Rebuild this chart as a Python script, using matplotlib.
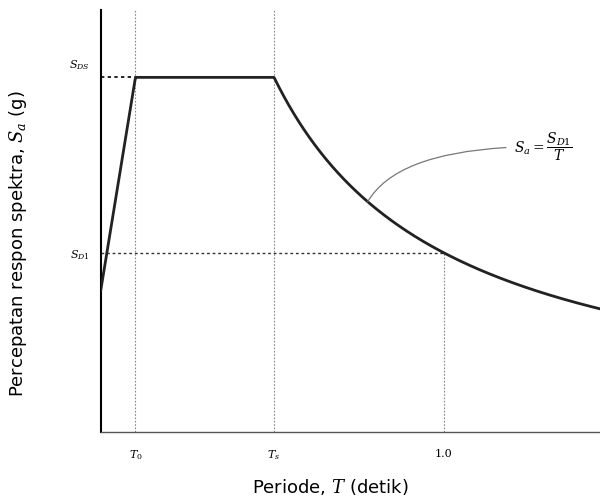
import numpy as np
import matplotlib.pyplot as plt
import matplotlib.transforms as mtransforms

# spektrum respons desain
SDS = 1.0
SD1 = 0.505
Ts = SD1 / SDS
T0 = 0.2 * Ts
T_max = 1.455
y_max = 1.19

tick_pos = [T0, Ts, 1.0]
tick_labels = [r'$T_0$', r'$T_s$', '1.0']

T = np.linspace(0, T_max, 600)
Sa = np.where(T < T0, SDS * (0.4 + 0.6 * T / T0),
              np.where(T <= Ts, SDS, SD1 / np.maximum(T, 1e-6)))

plt.rcParams['mathtext.fontset'] = 'dejavuserif'
fig = plt.figure(figsize=(6, 5.01), dpi=100)
ax = fig.add_axes([0.168, 0.138, 0.832, 0.842])

ax.plot(T, Sa, color='#222222', lw=2.0, zorder=3)

# garis bantu
ax.plot([0, T0], [SDS, SDS], color='black', lw=1.2, ls=(0, (2, 2)))
ax.plot([0, 1.0], [SD1, SD1], color='#333333', lw=1.0, ls=(0, (2, 2)))
ax.axvline(T0, color='#888888', lw=0.8, ls=(0, (1.5, 1.5)))
ax.axvline(Ts, color='#888888', lw=0.8, ls=(0, (1.5, 1.5)))
ax.plot([1.0, 1.0], [0, SD1], color='#888888', lw=0.8, ls=(0, (1.5, 1.5)))

ax.set_xlim(0, T_max)
ax.set_ylim(0, y_max)
ax.spines['top'].set_visible(False)
ax.spines['right'].set_visible(False)
ax.spines['left'].set_linewidth(1.5)
ax.spines['bottom'].set_linewidth(1.0)
ax.spines['bottom'].set_color('#555555')

ax.set_xticks(tick_pos)
ax.set_xticklabels(tick_labels, fontsize=8, family='serif')
ax.set_yticks([SDS, SD1])
ax.set_yticklabels([r'$S_{DS}$', r'$S_{D1}$'], fontsize=8)
ax.tick_params(axis='x', length=0, pad=12)
ax.tick_params(axis='y', length=0, pad=8)
# label SDS sedikit di atas garis
lbl = ax.get_yticklabels()[0]
lbl.set_transform(lbl.get_transform() + mtransforms.ScaledTranslation(0, 0.14, fig.dpi_scale_trans))

ax.set_xlabel(r'Periode, $T$ (detik)', fontsize=13, va='center')
ax.xaxis.set_label_coords(0.46, -0.13)
ax.set_ylabel(r'Percepatan respon spektra, $S_a$ (g)', fontsize=13, va='center')
ax.yaxis.set_label_coords(-0.166, 0.445)

ax.annotate(r'$S_a = \dfrac{S_{D1}}{T}$', xy=(0.778, SD1 / 0.778), xytext=(1.205, 0.805),
            fontsize=10, va='center', ha='left',
            arrowprops=dict(arrowstyle='-', color='#777777', lw=0.9,
                            connectionstyle='angle3,angleA=0,angleB=60',
                            shrinkA=4, shrinkB=0))

fig.savefig('out.png')
